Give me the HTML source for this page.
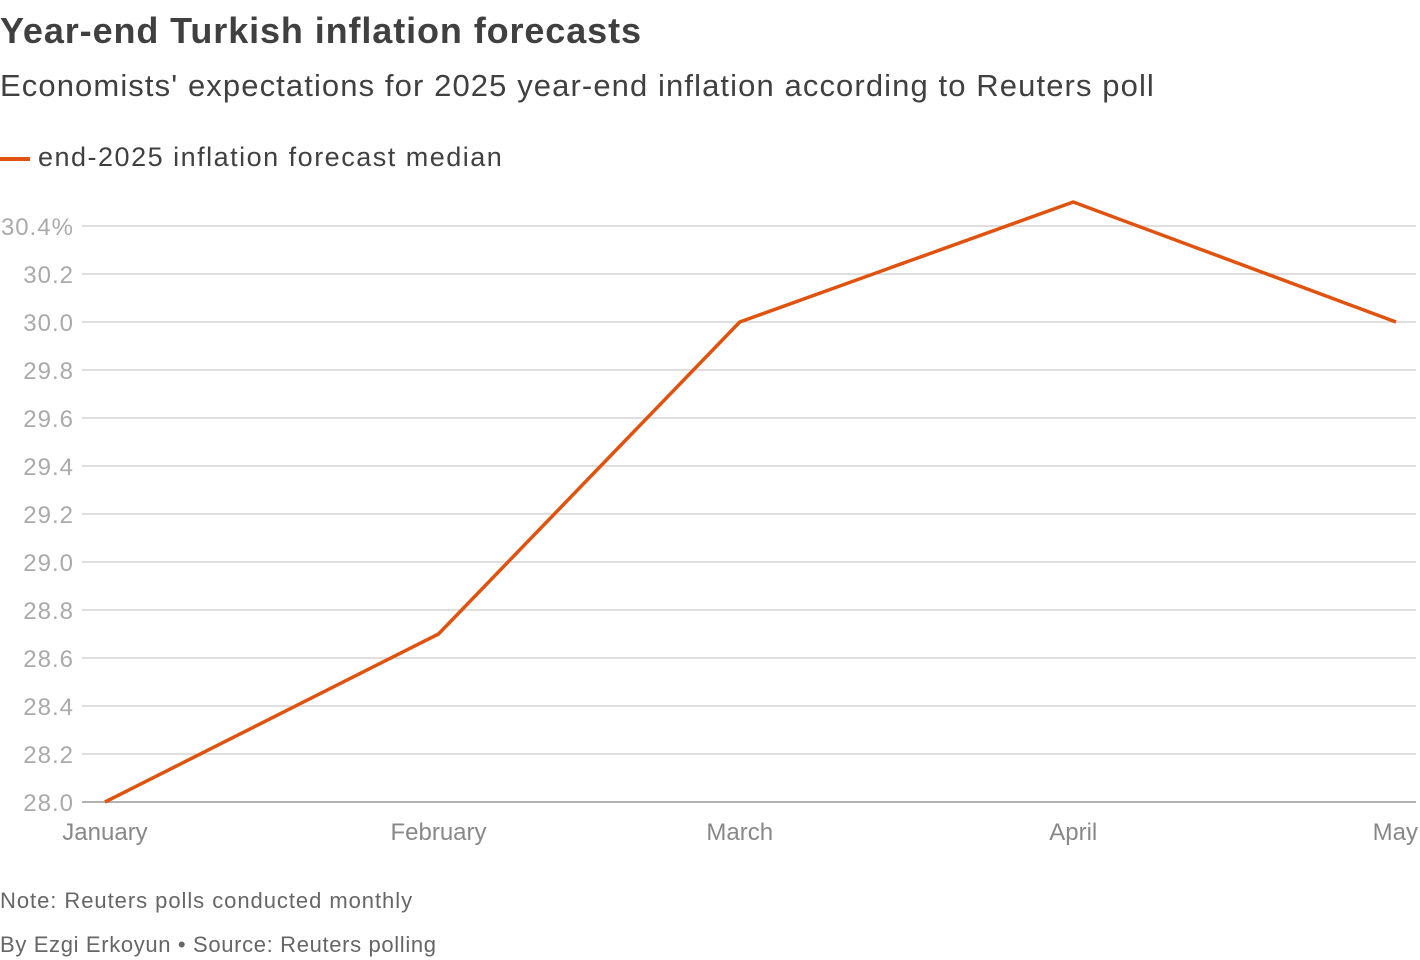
<!DOCTYPE html>
<html><head><meta charset="utf-8">
<style>
body{margin:0;width:1420px;height:960px;background:#fff;font-family:"Liberation Sans",sans-serif;overflow:hidden;position:relative}
.t{position:absolute;white-space:nowrap}
</style></head><body>
<div class="t" style="left:0;top:10px;font-size:36px;font-weight:bold;color:#404040;letter-spacing:0.9px">Year-end Turkish inflation forecasts</div>
<div class="t" style="left:0;top:68px;font-size:31px;color:#404040;letter-spacing:1.1px">Economists' expectations for 2025 year-end inflation according to Reuters poll</div>
<div class="t" style="left:0;top:142px;font-size:27px;color:#404040;letter-spacing:1.5px"><span style="display:inline-block;width:30px;height:4px;background:#e0530f;vertical-align:middle;margin-right:8px"></span>end-2025 inflation forecast median</div>
<svg id="chart" width="1420" height="870" style="position:absolute;left:0;top:0"></svg>
<div class="t" style="left:0;top:888px;font-size:22px;color:#666;letter-spacing:0.95px">Note: Reuters polls conducted monthly</div>
<div class="t" style="left:0;top:932px;font-size:22px;color:#666;letter-spacing:0.65px">By Ezgi Erkoyun • Source: Reuters polling</div>
<script>
const categories=["January","February","March","April","May"];
const dayOffsets=[0,31,59,90,120];
const values=[28.0,28.7,30.0,30.5,30.0];
const yTicks=[28.0,28.2,28.4,28.6,28.8,29.0,29.2,29.4,29.6,29.8,30.0,30.2,30.4];
const yTickLabels=["28.0","28.2","28.4","28.6","28.8","29.0","29.2","29.4","29.6","29.8","30.0","30.2","30.4%"];
const NS="http://www.w3.org/2000/svg";
const svg=document.getElementById('chart');
const x=d=>105+(d-0)/(120-0)*(1396-105);
const y=v=>802-(v-28.0)/(2.4)*(802-226);
function mk(t,a){const e=document.createElementNS(NS,t);for(const k in a)e.setAttribute(k,a[k]);svg.appendChild(e);return e;}
yTicks.forEach((v,i)=>{
 const l=mk('line',{x1:82,x2:1416,y1:y(v),y2:y(v),stroke:v===28?'#999':'#ccc','stroke-width':v===28?1.5:1.2});
 
 
 const t=mk('text',{x:74,y:y(v)+9,'text-anchor':'end','font-size':24,fill:'#aaa','letter-spacing':'1','font-family':'Liberation Sans, sans-serif'});
 t.textContent=yTickLabels[i];
 
 
});
categories.forEach((c,i)=>{
 const anchor=i===categories.length-1?'end':'middle';
 const xx=i===categories.length-1?1418:x(dayOffsets[i]);
 const t=mk('text',{x:xx,y:840,'text-anchor':anchor,'font-size':24,fill:'#888','font-family':'Liberation Sans, sans-serif'});
 t.textContent=c;
 
 
});
const p=mk('polyline',{points:values.map((v,i)=>x(dayOffsets[i])+','+y(v)).join(' '),fill:'none',stroke:'#e0530f','stroke-width':3.5,'stroke-linejoin':'round'});


</script>
</body></html>
